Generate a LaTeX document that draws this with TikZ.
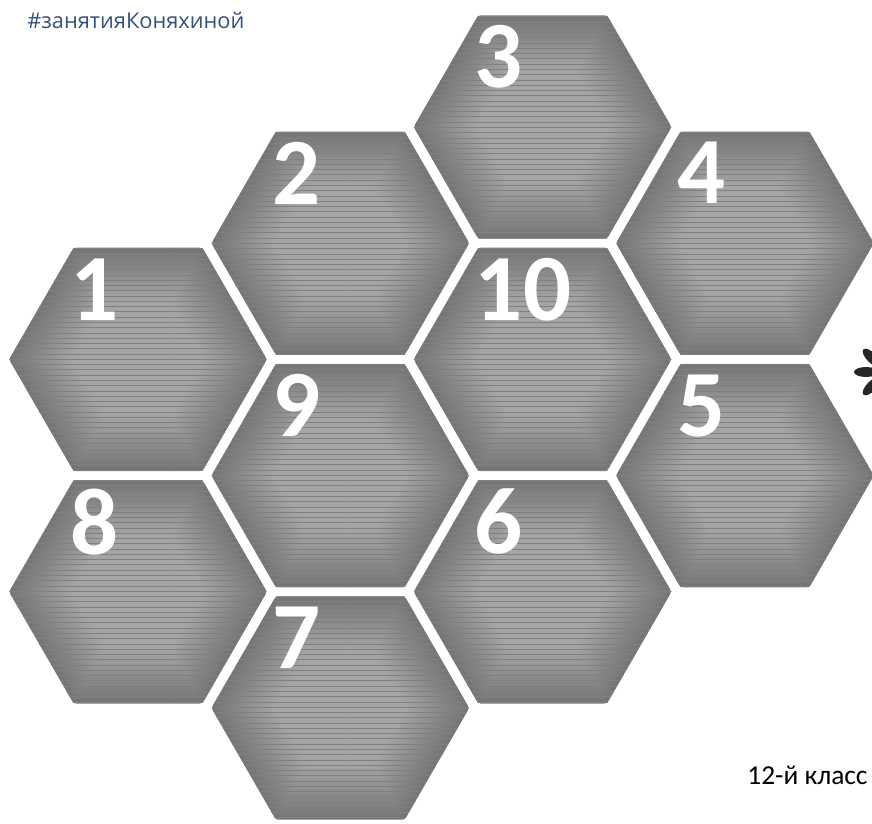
\documentclass[tikz,border=0pt]{standalone}
\usepackage{fontspec}
\usetikzlibrary{shapes.geometric,patterns}
\newfontfamily\numfont{Carlito}
\newfontfamily\tagfont{Open Sans}
\definecolor{hexin}{RGB}{166,166,166}
\definecolor{hexout}{RGB}{118,118,118}
\definecolor{tagblue}{RGB}{52,82,122}

\begin{document}
\begin{tikzpicture}[x=0.02cm,y=-0.02cm,
  hexa/.style={regular polygon, regular polygon sides=6, minimum size=#1,
    inner sep=0pt, outer sep=0pt},
  hexa/.default=5.16cm,
  num/.style={text=white, font=\numfont\bfseries\fontsize{54}{54}\selectfont,
    inner sep=0pt, anchor=west}]
  \useasboundingbox (0,0) rectangle (872,824);
  % honeycomb: number/column/row
  \foreach \n/\c/\r in {1/0/2, 2/1/1, 3/2/0, 4/3/1, 10/2/2, 9/1/3, 5/3/3, 8/0/4, 6/2/4, 7/1/5}{
    \node[hexa, fill=hexout, rounded corners=1.5pt] (h\n) at ({138+202.3*\c},{127+116.2*\r}) {};
    % lighter towards the middle
    \foreach \k in {1,...,12}
      \node[hexa={5.16cm-\k*0.2cm}, fill=hexin!\the\numexpr\k*8\relax!hexout] at (h\n) {};
    \path[pattern=horizontal lines, pattern color=black!50]
      (h\n.corner 1) -- (h\n.corner 2) -- (h\n.corner 3) -- (h\n.corner 4) -- (h\n.corner 5) -- (h\n.corner 6) -- cycle;
    \node[num] (n\n) at ([shift={(-68,-70)}]h\n.center) {\n};
  }
  % flower at the right edge
  \begin{scope}
    \clip (0,0) rectangle (872,824);
    \foreach \a in {0,45,...,315}
      \fill[black!85, rotate around={\a:(886,372)}] (866,372) ellipse (0.24cm and 0.1cm);
  \end{scope}
  \node[font=\tagfont\fontsize{12.4}{12.4}\selectfont, text=tagblue, anchor=west, inner sep=0pt] (tag) at (27,20) {\#занятияКоняхиной};
  \node[font=\numfont\fontsize{15.6}{15.6}\selectfont, anchor=west, inner sep=0pt] (grade) at (747,775) {12-й класс};
\end{tikzpicture}
\end{document}
